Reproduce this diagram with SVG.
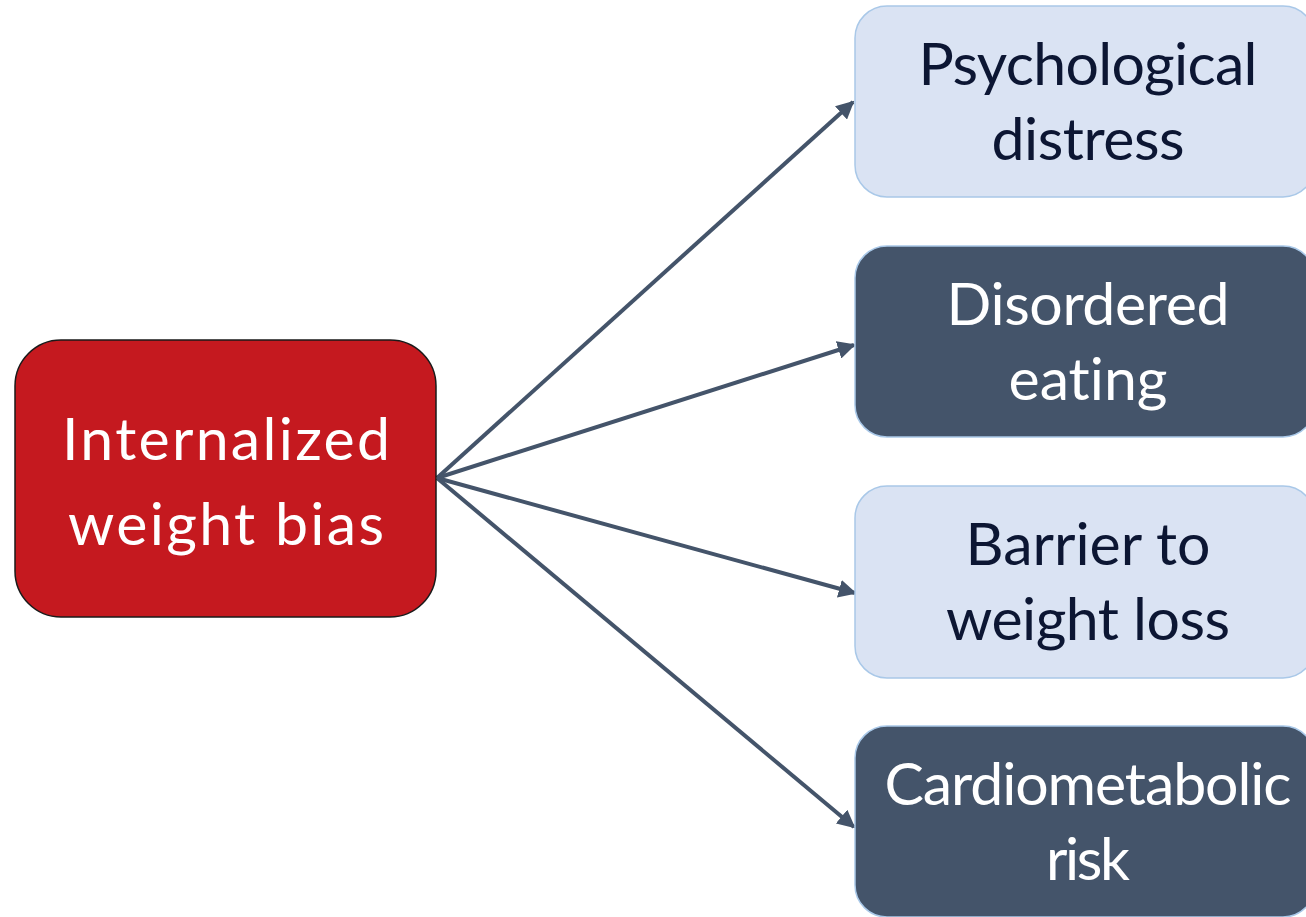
<svg xmlns="http://www.w3.org/2000/svg" width="1306" height="917" viewBox="0 0 1306 917">
  <style>
    .lbl { font-family: Lato, "Open Sans", "Liberation Sans", sans-serif; font-size: 59px; text-anchor: middle; font-variant-ligatures: none; font-feature-settings: "liga" 0; }
    .light rect { fill: #DAE3F3; stroke: #A9C8E8; stroke-width: 1.5; }
    .light text { fill: #0C1633; }
    .dark rect { fill: #44546A; stroke: #A9C8E8; stroke-width: 1.5; }
    .dark text { fill: #FFFFFF; }
    .conn line { stroke: #44546A; stroke-width: 4; fill: none; marker-end: url(#arrow); }
  </style>
  <defs>
    <marker id="arrow" viewBox="0 0 10 10" refX="9" refY="5" markerWidth="4.5" markerHeight="4.5" orient="auto" markerUnits="strokeWidth">
      <path d="M0,0 L10,5 L0,10 Z" fill="#44546A"/>
    </marker>
  </defs>
  <rect width="1306" height="917" fill="#FFFFFF"/>

  <g class="conn">
    <line x1="437" y1="478" x2="853" y2="102"/>
    <line x1="437" y1="478" x2="854" y2="345"/>
    <line x1="437" y1="478" x2="855" y2="593"/>
    <line x1="437" y1="478" x2="854" y2="827"/>
  </g>

  <g id="internalized">
    <rect x="15" y="340" width="421" height="277" rx="46" ry="46" fill="#C5191F" stroke="#1A1A1A" stroke-width="1.5"/>
    <text class="lbl" x="226" y="460" fill="#FFFFFF" textLength="328">Internalized</text>
    <text class="lbl" x="226" y="545" fill="#FFFFFF" textLength="316">weight bias</text>
  </g>

  <g id="psychological" class="light">
    <rect x="855" y="6" width="460" height="191" rx="32" ry="32"/>
    <text class="lbl" x="1088" y="85" textLength="339">Psychological</text>
    <text class="lbl" x="1088" y="160" textLength="193">distress</text>
  </g>

  <g id="disordered" class="dark">
    <rect x="855" y="246" width="460" height="191" rx="32" ry="32"/>
    <text class="lbl" x="1088" y="325" textLength="283">Disordered</text>
    <text class="lbl" x="1088" y="400" textLength="159">eating</text>
  </g>

  <g id="barrier" class="light">
    <rect x="855" y="486" width="460" height="192" rx="32" ry="32"/>
    <text class="lbl" x="1088" y="565" textLength="245">Barrier to</text>
    <text class="lbl" x="1088" y="640" textLength="284">weight loss</text>
  </g>

  <g id="cardiometabolic" class="dark">
    <rect x="855" y="726" width="460" height="191" rx="32" ry="32"/>
    <text class="lbl" x="1088" y="805" textLength="407">Cardiometabolic</text>
    <text class="lbl" x="1088" y="880" textLength="84">risk</text>
  </g>
</svg>
